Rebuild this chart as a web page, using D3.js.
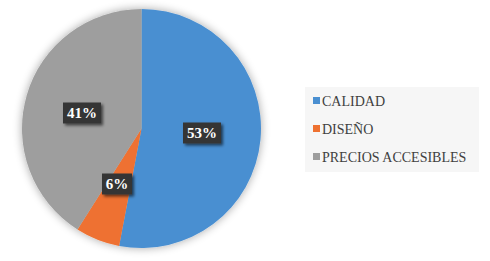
<!DOCTYPE html>
<html>
<head>
<meta charset="utf-8">
<script src="https://cdn.jsdelivr.net/npm/d3@7"></script>
<style>
  body { margin: 0; background: #fff; }
</style>
</head>
<body>
<div id="chart"></div>
<script>
var categories = ['CALIDAD', 'DISEÑO', 'PRECIOS ACCESIBLES'];
var values = [53, 6, 41];
var colors = ['#4a8fd1', '#ee7130', '#9e9e9e'];

var width = 490, height = 261;
var cx = 141.5, cy = 128.5, radius = 119.5;
var serif = '"Liberation Serif", "DejaVu Serif", "Times New Roman", serif';

var svg = d3.select('#chart').append('svg')
  .attr('width', width)
  .attr('height', height);

var defs = svg.append('defs');
var shadow = defs.append('filter').attr('id', 'pieShadow')
  .attr('x', '-20%').attr('y', '-20%').attr('width', '140%').attr('height', '140%');
shadow.append('feGaussianBlur').attr('in', 'SourceAlpha').attr('stdDeviation', 5);
shadow.append('feOffset').attr('dx', 0).attr('dy', 0).attr('result', 'blur');
shadow.append('feComponentTransfer').append('feFuncA').attr('type', 'linear').attr('slope', 0.35);
var m1 = shadow.append('feMerge');
m1.append('feMergeNode');
m1.append('feMergeNode').attr('in', 'SourceGraphic');

var lblShadow = defs.append('filter').attr('id', 'lblShadow')
  .attr('x', '-30%').attr('y', '-30%').attr('width', '170%').attr('height', '170%');
lblShadow.append('feGaussianBlur').attr('in', 'SourceAlpha').attr('stdDeviation', 1.5);
lblShadow.append('feOffset').attr('dx', 2).attr('dy', 2);
lblShadow.append('feComponentTransfer').append('feFuncA').attr('type', 'linear').attr('slope', 0.6);
var m2 = lblShadow.append('feMerge');
m2.append('feMergeNode');
m2.append('feMergeNode').attr('in', 'SourceGraphic');

var pie = d3.pie().sort(null).value(function(d) { return d; });
var arc = d3.arc().innerRadius(0).outerRadius(radius);

var arcs = pie(values);

var g = svg.append('g').attr('transform', 'translate(' + cx + ',' + cy + ')');

g.append('g').attr('filter', 'url(#pieShadow)')
  .selectAll('path')
  .data(arcs)
  .enter().append('path')
  .attr('d', arc)
  .attr('fill', function(d, i) { return colors[i]; });

// data labels: dark boxes with white bold text
var labelPos = [
  [202, 133],
  [117, 184],
  [82, 113]
];
var labels = g.selectAll('.lbl')
  .data(arcs)
  .enter().append('g')
  .attr('class', 'lbl')
  .attr('transform', function(d, i) {
    return 'translate(' + (labelPos[i][0] - cx) + ',' + (labelPos[i][1] - cy) + ')';
  });

labels.append('rect')
  .attr('x', function(d) { return d.data < 10 ? -15 : -19; })
  .attr('y', -10.5)
  .attr('width', function(d) { return d.data < 10 ? 30 : 38; })
  .attr('height', 21)
  .attr('fill', '#363636')
  .attr('filter', 'url(#lblShadow)');

labels.append('text')
  .attr('text-anchor', 'middle')
  .attr('dy', '0.35em')
  .attr('fill', '#fff')
  .attr('font-family', serif)
  .attr('font-weight', 'bold')
  .attr('font-size', '15px')
  .text(function(d) { return d.data + '%'; });

// legend
var legend = svg.append('g');
legend.append('rect')
  .attr('x', 305).attr('y', 87)
  .attr('width', 174).attr('height', 85)
  .attr('fill', '#f6f6f6');

var ly = d3.scalePoint().domain(categories).range([101, 157]);
var items = legend.selectAll('.item')
  .data(categories)
  .enter().append('g')
  .attr('class', 'item')
  .attr('transform', function(d) { return 'translate(313,' + ly(d) + ')'; });

items.append('rect')
  .attr('x', 0).attr('y', -4)
  .attr('width', 7).attr('height', 7)
  .attr('fill', function(d, i) { return colors[i]; });

items.append('text')
  .attr('x', 9).attr('dy', '0.35em')
  .attr('font-family', serif)
  .attr('font-size', '14px')
  .attr('fill', '#404040')
  .text(function(d) { return d; });
</script>
</body>
</html>
